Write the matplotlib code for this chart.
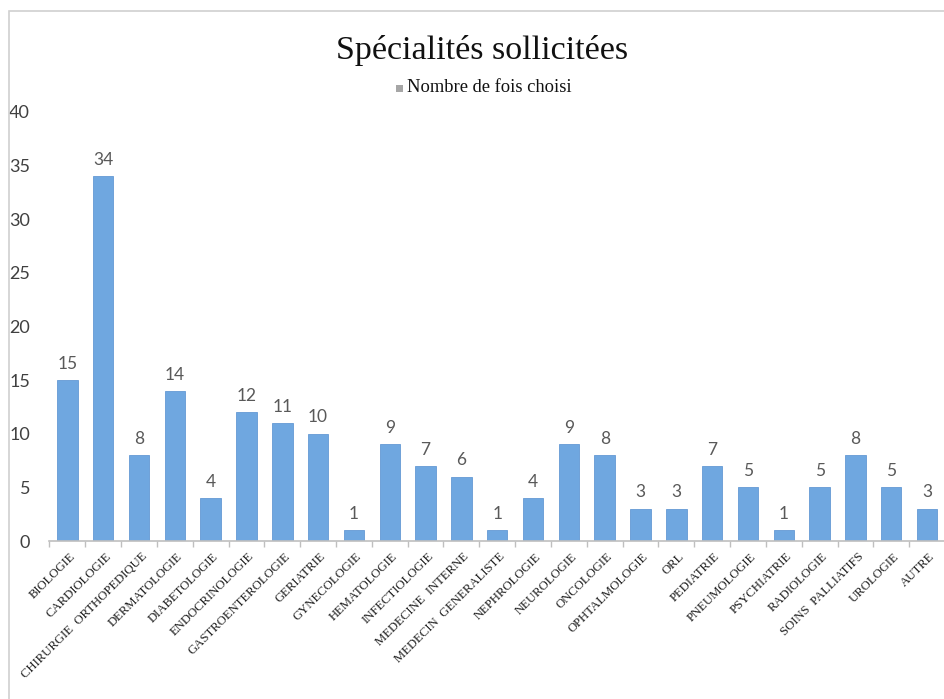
import matplotlib
matplotlib.use("Agg")
import matplotlib.pyplot as plt
from matplotlib.patches import Rectangle
import numpy as np

categories = ["BIOLOGIE", "CARDIOLOGIE", "CHIRURGIE  ORTHOPEDIQUE", "DERMATOLOGIE",
              "DIABETOLOGIE", "ENDOCRINOLOGIE", "GASTROENTEROLOGIE", "GERIATRIE",
              "GYNECOLOGIE", "HEMATOLOGIE", "INFECTIOLOGIE", "MEDECINE  INTERNE",
              "MEDECIN  GENERALISTE", "NEPHROLOGIE", "NEUROLOGIE", "ONCOLOGIE",
              "OPHTALMOLOGIE", "ORL", "PEDIATRIE", "PNEUMOLOGIE", "PSYCHIATRIE",
              "RADIOLOGIE", "SOINS  PALLIATIFS", "UROLOGIE", "AUTRE"]
values = [15, 34, 8, 14, 4, 12, 11, 10, 1, 9, 7, 6, 1, 4, 9, 8, 3, 3, 7, 5, 1, 5, 8, 5, 3]
yticks = [0, 5, 10, 15, 20, 25, 30, 35, 40]
title = "Spécialités sollicitées"
legend_label = "Nombre de fois choisi"

W, H = 945, 699
fig = plt.figure(figsize=(W / 100, H / 100), dpi=100)
fig.patch.set_facecolor("white")

# chart border
fig.add_artist(Rectangle((9 / W, -0.01), 1.0, 1 - 11 / H + 0.01, transform=fig.transFigure,
                         fill=False, edgecolor="#d0d0d0", linewidth=1.2))

x0_px, step_px = 67.5, 36.08
left_px = x0_px - step_px / 2
xmax = (W - x0_px) / step_px
ax_bottom = 1 - 541 / H
ax_top = 1 - 112 / H
ax = fig.add_axes([left_px / W, ax_bottom, (W - left_px) / W, ax_top - ax_bottom])

x = np.arange(len(categories))
bars = ax.bar(x, values, width=0.57, color="#6FA7E0", edgecolor="#6499D4", linewidth=0.6,
              label=legend_label, zorder=2)
ax.set_xlim(-0.5, xmax)
ax.set_ylim(0, 40)

for xi, v in zip(x, values):
    ax.annotate(str(v), (xi, v), xytext=(0, 6), textcoords="offset points",
                ha="center", va="bottom", fontsize=12.5, color="#595959", family="Lato")

ax.set_yticks(yticks)
ax.set_yticklabels([str(t) for t in yticks], fontsize=13, color="#404040", family="Lato")
ax.tick_params(axis="y", length=0, pad=14)

ax.set_xticks(x)
ax.set_xticklabels([])
ax.tick_params(axis="x", which="major", length=0)
ax.set_xticks(np.arange(-0.5, len(categories), 1), minor=True)
ax.tick_params(axis="x", which="minor", length=4, color="#bfbfbf", width=1)

for xi, lab in zip(x, categories):
    ax.text(xi + 0.05, -0.9, lab, rotation=45, rotation_mode="anchor", ha="right", va="top",
            fontsize=9.2, family="Liberation Serif", color="#202020")

for s in ["top", "right", "left"]:
    ax.spines[s].set_visible(False)
ax.spines["bottom"].set_color("#bfbfbf")
ax.spines["bottom"].set_linewidth(1.2)

fig.text(482 / W, 1 - 50 / H, title, ha="center", va="center", fontsize=24.5,
         family="Liberation Serif", color="#111111")

# legend
fig.add_artist(Rectangle((396 / W, 1 - 92 / H), 7 / W, 7 / H, transform=fig.transFigure,
                         facecolor="#a6a6a6", edgecolor="none"))
fig.text(407 / W, 1 - 88 / H, legend_label, ha="left", va="center", fontsize=13.3,
         family="Liberation Serif", color="#111111")

fig.savefig("out.png", dpi=100)
